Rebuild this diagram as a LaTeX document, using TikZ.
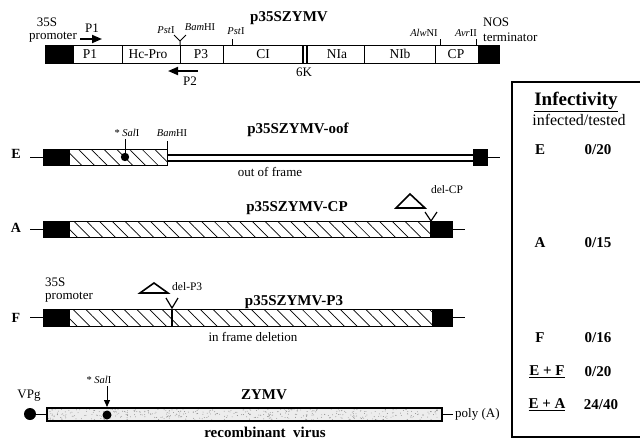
\documentclass[tikz,border=0pt]{standalone}
\usepackage{fontspec}
\setmainfont{Liberation Serif}
\usetikzlibrary{arrows.meta,patterns.meta}
\begin{document}
\begin{tikzpicture}[x=1pt,y=-1pt,
  lbl/.style={font=\fontsize{13}{15}\selectfont, inner sep=0pt},
  bar/.style={font=\fontsize{13.5}{15}\selectfont, inner sep=0pt},
  site/.style={font=\fontsize{10.5}{12}\selectfont, inner sep=0pt},
  ttl/.style={font=\bfseries\fontsize{15}{17}\selectfont, inner sep=0pt},
  rowlbl/.style={font=\bfseries\fontsize{14}{16}\selectfont, inner sep=0pt},
  tab/.style={font=\bfseries\fontsize{15}{17}\selectfont, inner sep=0pt},
  wire/.style={line width=1pt},
  blk/.style={fill=black},
  hatch/.style={pattern={Lines[angle=-45,distance=9pt,line width=0.7pt]}},
  prim/.style={line width=1.8pt, -{Triangle[length=10pt,width=8pt]}},
  delta/.style={line width=1.6pt, line join=miter},
]
\useasboundingbox (0,0) rectangle (640,440);

% ---------------- top construct p35SZYMV ----------------
\fill[blk] (45,45) rectangle (74,63);
\fill[blk] (478,45) rectangle (499,63);
\draw[wire] (45,45) rectangle (499,63);
\foreach \x in {122,180,223,364,435} \draw[wire] (\x,45) -- (\x,63);
\draw[line width=1.3pt] (303,45) -- (303,63) (307,45) -- (307,63);
\node[bar] (tP1) at (90,54) {P1};
\node[bar] (tHc) at (148,54) {Hc-Pro};
\node[bar] (tP3) at (201,54) {P3};
\node[bar] (tCI) at (263,54) {CI};
\node[bar] (tNIa) at (337,54) {NIa};
\node[bar] (tNIb) at (400,54) {NIb};
\node[bar] (tCP) at (456,54) {CP};
\node[lbl] (t6K) at (304,72) {6K};
\node[ttl] (ttop) at (289,18) {p35SZYMV};
\node[lbl] (t35a) at (47,22) {35S};
\node[lbl] (tprom) at (53,37) {promoter};
\node[lbl, anchor=west] (tnos) at (483,22) {NOS};
\node[lbl, anchor=west] (tterm) at (483,37) {terminator};
% primers
\coordinate (p1s) at (80,39); \coordinate (p1e) at (102,39);
\draw[prim] (p1s) -- (p1e);
\node[lbl] (lp1) at (92,28) {P1};
\coordinate (p2s) at (198,71); \coordinate (p2e) at (168,71);
\draw[prim] (p2s) -- (p2e);
\node[lbl] (lp2) at (190,81) {P2};
% restriction sites
\draw[wire] (174,35) -- (180,41) -- (186,35) (180,41) -- (180,45);
\node[site] (pst1) at (166,30) {\textit{Pst}I};
\node[site] (bam1) at (200,27) {\textit{Bam}HI};
\draw[wire] (232,39) -- (232,45);
\node[site] (pst2) at (236,31) {\textit{Pst}I};
\draw[wire] (440,39) -- (440,45);
\node[site] (alw) at (424,33) {\textit{Alw}NI};
\draw[wire] (476,39) -- (476,45);
\node[site] (avr) at (466,33) {\textit{Avr}II};

% ---------------- E : p35SZYMV-oof ----------------
\node[rowlbl] (lE) at (16,154) {E};
\draw[wire] (30,157) -- (43,157);
\fill[blk] (43,149) rectangle (70,165);
\path[hatch] (70,149) rectangle (167,165);
\draw[wire] (43,149) rectangle (167,165);
\draw[line width=1.8pt] (167,155) -- (473,155) (167,161) -- (473,161);
\fill[blk] (473,149) rectangle (488,166);
\draw[wire] (488,157) -- (500,157);
\draw[wire] (167,141) -- (167,149);
\fill (125,157) circle (4.2);
\draw[wire] (125,139) -- (125,153);
\node[site] (salE) at (127,133) {* \textit{Sal}I};
\node[site] (bamE) at (172,133) {\textit{Bam}HI};
\node[ttl] (tE) at (298,130) {p35SZYMV-oof};
\node[lbl] (oof) at (270,172) {out of frame};

% ---------------- A : p35SZYMV-CP ----------------
\node[rowlbl] (lA) at (16,228) {A};
\draw[wire] (30,229) -- (43,229);
\fill[blk] (43,221) rectangle (70,237);
\path[hatch] (70,221) rectangle (430,237);
\fill[blk] (430,221) rectangle (452,237);
\draw[wire] (43,221) rectangle (452,237);
\draw[wire] (452,229) -- (465,229);
\draw[delta] (396,208) -- (410,194) -- (425,208) -- cycle;
\draw[line width=1.2pt] (425,212) -- (431,221) -- (437,212);
\node[site, font=\fontsize{11.5}{13}\selectfont] (dCP) at (447,190) {del-CP};
\node[ttl] (tA) at (297,208) {p35SZYMV-CP};

% ---------------- F : p35SZYMV-P3 ----------------
\node[rowlbl] (lF) at (16,318) {F};
\draw[wire] (30,317) -- (43,317);
\fill[blk] (43,309) rectangle (70,326);
\path[hatch] (70,309) rectangle (432,326);
\fill[blk] (432,309) rectangle (452,326);
\draw[wire] (43,309) rectangle (452,326);
\draw[wire] (452,317) -- (465,317);
\draw[line width=2pt] (172,309) -- (172,326);
\draw[line width=1.2pt] (166,298) -- (172,308) -- (178,298);
\draw[delta] (140,293) -- (154,283) -- (168,293) -- cycle;
\node[site, font=\fontsize{11.5}{13}\selectfont, anchor=west] (dP3) at (172,287) {del-P3};
\node[lbl, anchor=west] (f35) at (45,282) {35S};
\node[lbl, anchor=west] (fprom) at (45,297) {promoter};
\node[ttl] (tF) at (294,302) {p35SZYMV-P3};
\node[lbl] (ifd) at (253,337) {in frame deletion};

% ---------------- ZYMV recombinant virus ----------------
\node[lbl] (vpg) at (29,396) {VPg};
\fill (30,414) circle (6);
\draw[wire] (36,414) -- (47,414);
\fill[black!7] (47,408) rectangle (442,421);
\pgfmathsetseed{11}
\foreach \i in {1,...,420}{
  \pgfmathsetmacro\rx{48+393*rnd}
  \pgfmathsetmacro\ry{409+11*rnd}
  \fill[black!45] (\rx,\ry) circle (0.45);
}
\draw[line width=1.3pt] (47,408) rectangle (442,421);
\draw[wire] (442,414) -- (453,414);
\node[lbl, anchor=west] (poly) at (455,414) {poly (A)};
\fill (107,415) circle (4.5);
\coordinate (salA) at (107,386); \coordinate (salB) at (107,407);
\draw[wire, -{Triangle[length=7pt,width=6pt]}] (salA) -- (salB);
\node[site] (salZ) at (99,380) {* \textit{Sal}I};
\node[ttl] (tZ) at (264,395) {ZYMV};
\node[ttl, anchor=base] (rec) at (265,437.5) {recombinant\ \ virus};

% ---------------- infectivity table ----------------
\draw[line width=1.2pt] (645,82) -- (512,82) -- (512,437) -- (645,437);
\node[font=\bfseries\fontsize{19}{21}\selectfont, inner sep=0pt] (inf) at (576,102) {\underline{Infectivity}};
\node[font=\fontsize{16}{18}\selectfont, inner sep=0pt] (it) at (579,120) {infected/tested};
\node[tab] (rE) at (540,150) {E};
\node[tab] (vE) at (598,150) {0/20};
\node[tab] (rA) at (540,243) {A};
\node[tab] (vA) at (598,243) {0/15};
\node[tab] (rF) at (540,338) {F};
\node[tab] (vF) at (598,338) {0/16};
\node[tab] (rEF) at (547,372) {\underline{E + F}};
\node[tab] (vEF) at (598,372) {0/20};
\node[tab] (rEA) at (547,405) {\underline{E + A}};
\node[tab] (vEA) at (601,405) {24/40};
\end{tikzpicture}
\end{document}
